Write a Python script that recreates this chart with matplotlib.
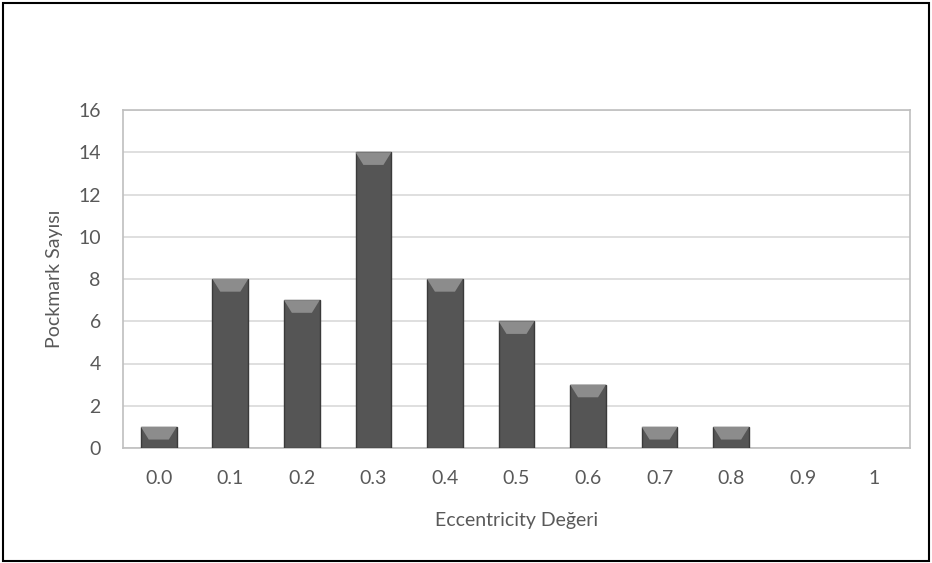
import matplotlib
matplotlib.use("Agg")
import matplotlib.pyplot as plt
from matplotlib.patches import Polygon, Rectangle

categories = ["0.0", "0.1", "0.2", "0.3", "0.4", "0.5", "0.6", "0.7", "0.8", "0.9", "1"]
counts = [1, 8, 7, 14, 8, 6, 3, 1, 1, 0, 0]
yticks = [0, 2, 4, 6, 8, 10, 12, 14, 16]

plt.rcParams['font.family'] = ['Lato', 'DejaVu Sans']
txt = '#595959'

fig = plt.figure(figsize=(9.32, 5.63), dpi=100)
W, H = 932, 563
ax = fig.add_axes([123 / W, 1 - 448 / H, (910 - 123) / W, (448 - 110) / H])

x = list(range(len(categories)))
bw = 0.5
edge = ['#3a3a3a' if v > 0 else 'none' for v in counts]
bars = ax.bar(x, counts, width=bw, color='#555555', edgecolor=edge, linewidth=1.0, zorder=3)

# bevel highlight at top of each bar
for b, v in zip(bars, counts):
    if v <= 0:
        continue
    x0 = b.get_x(); w = b.get_width(); top = b.get_height()
    dy = 0.6
    inset = w * 0.22
    poly = Polygon([[x0, top], [x0 + w, top], [x0 + w - inset, top - dy], [x0 + inset, top - dy]],
                   closed=True, facecolor='#8c8c8c', edgecolor='none', zorder=4)
    ax.add_patch(poly)

ax.set_xlim(-0.5, len(categories) - 0.5)
ax.set_ylim(0, 16)
ax.set_yticks(yticks)
ax.set_xticks(x)
ax.set_xticklabels(categories)
ax.yaxis.grid(True, color='#d9d9d9', linewidth=1.2, zorder=0)
ax.set_axisbelow(True)
for s in ax.spines.values():
    s.set_color('#bfbfbf')
    s.set_linewidth(1.2)
ax.tick_params(axis='both', length=0, labelsize=14, colors=txt)
ax.tick_params(axis='y', pad=16)
ax.tick_params(axis='x', pad=16)
ax.set_xlabel("Eccentricity Değeri", fontsize=14, color=txt, labelpad=18)
ax.set_ylabel("Pockmark Sayısı", fontsize=14, color=txt, labelpad=11)

fig.patches.append(Rectangle((3 / W, 2 / H), (W - 6) / W, (H - 5) / H, transform=fig.transFigure,
                             fill=False, edgecolor='black', linewidth=1.5))

fig.savefig("out.png", dpi=100)
